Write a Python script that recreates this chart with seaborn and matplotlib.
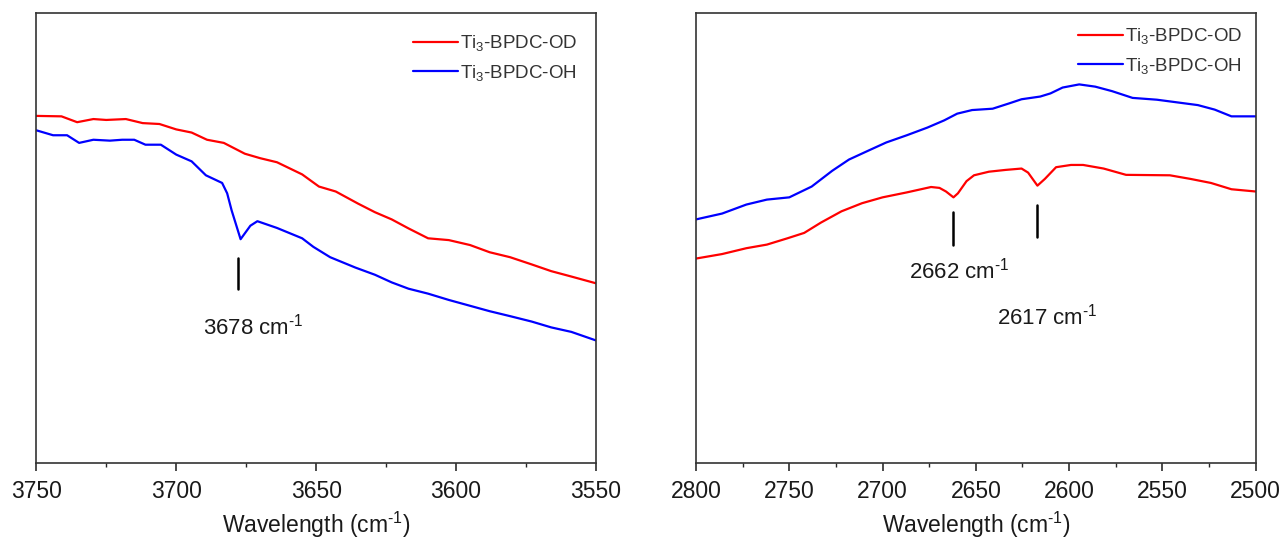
import matplotlib
matplotlib.use("Agg")
import matplotlib.pyplot as plt
from matplotlib.ticker import MultipleLocator
import numpy as np
import pandas as pd
import seaborn as sns

# ---- O-H / O-D stretching region (3750-3550 cm-1), normalized absorbance ----
oh_wn_od = [3750, 3741, 3735.4, 3729.6, 3725, 3718, 3712, 3706, 3700, 3694.5, 3689,
            3683, 3675.5, 3670, 3664, 3655, 3649, 3643, 3635, 3629, 3623, 3617, 3610,
            3602.6, 3595, 3588, 3580.7, 3573, 3566, 3558.8, 3550]
oh_od = [0.772, 0.771, 0.758, 0.765, 0.763, 0.765, 0.756, 0.754, 0.742, 0.735, 0.719,
         0.712, 0.688, 0.678, 0.669, 0.642, 0.615, 0.604, 0.577, 0.558, 0.542, 0.522,
         0.500, 0.496, 0.485, 0.469, 0.458, 0.442, 0.427, 0.415, 0.400]

oh_wn_oh = [3750, 3744, 3739, 3734.7, 3729.6, 3723.7, 3719.3, 3715, 3711, 3705.5, 3700,
            3694.5, 3689.4, 3683.6, 3681.8, 3680.2, 3677, 3673.5, 3671, 3664, 3655, 3651,
            3645, 3636, 3629, 3623, 3617, 3610, 3602.6, 3595, 3588, 3580.7, 3573, 3566,
            3558.8, 3550]
oh_oh = [0.740, 0.729, 0.729, 0.712, 0.719, 0.717, 0.719, 0.719, 0.708, 0.708, 0.686,
         0.671, 0.640, 0.623, 0.600, 0.562, 0.498, 0.528, 0.538, 0.523, 0.500, 0.481,
         0.458, 0.435, 0.419, 0.402, 0.388, 0.377, 0.363, 0.350, 0.338, 0.327, 0.315,
         0.302, 0.292, 0.273]

# ---- O-D region (2800-2500 cm-1) ----
od_wn_od = [2800, 2786, 2773, 2762, 2751, 2742, 2733, 2722, 2711, 2700, 2687, 2674,
            2669.5, 2666, 2662, 2659.6, 2655, 2651, 2643, 2634, 2625.5, 2622, 2617,
            2613, 2607, 2599, 2592.5, 2581.5, 2569.5, 2546, 2535, 2524, 2513, 2500]
od_od = [0.455, 0.465, 0.478, 0.486, 0.500, 0.512, 0.535, 0.560, 0.578, 0.591, 0.602,
         0.614, 0.612, 0.604, 0.591, 0.600, 0.627, 0.640, 0.648, 0.652, 0.655, 0.646,
         0.617, 0.632, 0.658, 0.663, 0.663, 0.655, 0.641, 0.640, 0.632, 0.623, 0.609,
         0.604]

od_wn_oh = [2800, 2786, 2773, 2762, 2750, 2738, 2727, 2718, 2707, 2698, 2687, 2676,
            2667, 2660, 2652, 2641, 2632, 2625.5, 2615.5, 2610, 2603.5, 2594.6, 2586,
            2577, 2566, 2553, 2542, 2531, 2522, 2513, 2500]
od_oh = [0.542, 0.555, 0.575, 0.586, 0.591, 0.615, 0.650, 0.675, 0.696, 0.713, 0.729,
         0.746, 0.762, 0.777, 0.785, 0.788, 0.800, 0.809, 0.815, 0.822, 0.835, 0.842,
         0.837, 0.827, 0.812, 0.808, 0.802, 0.796, 0.786, 0.771, 0.771]

series_names = ["Ti$_3$-BPDC-OD", "Ti$_3$-BPDC-OH"]
series_colors = ["#ff0000", "#0000ff"]

# peak markers
oh_peaks = [3678]
od_peaks = [2662, 2617]


def frame(wn_a, a, wn_b, b):
    return pd.concat([
        pd.DataFrame({"wn": wn_a, "abs": a, "sample": series_names[0]}),
        pd.DataFrame({"wn": wn_b, "abs": b, "sample": series_names[1]}),
    ], ignore_index=True)


sns.set_theme(style="white")
plt.rcParams["font.family"] = ["Liberation Sans", "DejaVu Sans"]
plt.rcParams["mathtext.fontset"] = "custom"
plt.rcParams["mathtext.rm"] = "Liberation Sans"
plt.rcParams["mathtext.it"] = "Liberation Sans"
plt.rcParams["mathtext.default"] = "regular"

fig = plt.figure(figsize=(12.83, 5.42), dpi=100)
W, H = 1283, 542
ax1 = fig.add_axes([36.3 / W, 1 - 463.3 / H, 559.7 / W, 450 / H])
ax2 = fig.add_axes([696.0 / W, 1 - 463.3 / H, 559.7 / W, 450 / H])

palette = dict(zip(series_names, series_colors))
unit = "cm$^{\\text{-1}}$"

panels = [
    (ax1, frame(oh_wn_od, oh_od, oh_wn_oh, oh_oh), (3750, 3550), (0.99, 0.985)),
    (ax2, frame(od_wn_od, od_od, od_wn_oh, od_oh), (2800, 2500), (1.0, 1.0)),
]

for ax, df, xl, leg_anchor in panels:
    sns.lineplot(data=df, x="wn", y="abs", hue="sample", hue_order=series_names,
                 palette=palette, linewidth=1.6, ax=ax, sort=False, estimator=None)
    ax.set_xlim(*xl)
    ax.set_ylim(0, 1)
    ax.xaxis.set_major_locator(MultipleLocator(50))
    ax.xaxis.set_minor_locator(MultipleLocator(25))
    ax.set_yticks([])
    ax.set_ylabel("")
    ax.set_xlabel(f"Wavelength ({unit})", fontsize=16.5, color="#1a1a1a", labelpad=5)
    ax.tick_params(axis="x", which="major", direction="out", length=6, width=1.1,
                   labelsize=16.5, pad=6, colors="#1a1a1a", bottom=True)
    ax.tick_params(axis="x", which="minor", direction="out", length=3, width=1.0,
                   bottom=True)
    for sp in ax.spines.values():
        sp.set_visible(True)
        sp.set_color("#333333")
        sp.set_linewidth(1.2)
    handles, labels = ax.get_legend_handles_labels()
    ax.legend(handles, labels, loc="upper right", bbox_to_anchor=leg_anchor,
              frameon=False, fontsize=13.5, handlelength=2.4, handletextpad=0.1,
              labelspacing=0.5, borderaxespad=0.3)
    for t in ax.get_legend().get_texts():
        t.set_color("#333333")

# peak markers and labels
ax1.plot([oh_peaks[0], oh_peaks[0]], [0.387, 0.457], color="black", lw=1.8)
ax1.text(3672.6, 0.304, f"{oh_peaks[0]} {unit}", ha="center", va="center",
         fontsize=16, color="#1a1a1a")

ax2.plot([od_peaks[0], od_peaks[0]], [0.486, 0.558], color="black", lw=1.8)
ax2.text(2659, 0.428, f"{od_peaks[0]} {unit}", ha="center", va="center",
         fontsize=16, color="#1a1a1a")
ax2.plot([od_peaks[1], od_peaks[1]], [0.502, 0.575], color="black", lw=1.8)
ax2.text(2611.5, 0.326, f"{od_peaks[1]} {unit}", ha="center", va="center",
         fontsize=16, color="#1a1a1a")

fig.savefig("out.png", dpi=100, facecolor="white")
